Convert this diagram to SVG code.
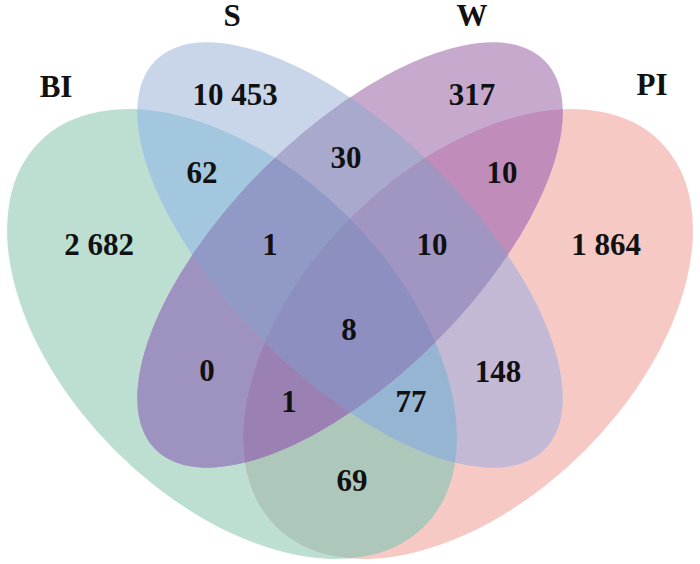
<svg xmlns="http://www.w3.org/2000/svg" width="700" height="564" viewBox="0 0 700 564">
<style>
text{font-family:"Liberation Serif","Times New Roman",serif;font-weight:bold;font-size:31px;fill:#111;text-anchor:middle}
</style>
<defs>
<ellipse id="eBI" cx="232" cy="334" rx="272" ry="165" transform="rotate(45 232 334)"/>
<ellipse id="eS" cx="350" cy="255" rx="275" ry="122" transform="rotate(45 350 255)"/>
<ellipse id="eW" cx="350" cy="255" rx="275" ry="122" transform="rotate(-45 350 255)"/>
<ellipse id="ePI" cx="468" cy="334" rx="272" ry="165" transform="rotate(-45 468 334)"/>
<clipPath id="cBI"><use href="#eBI"/></clipPath>
<clipPath id="cS"><use href="#eS"/></clipPath>
<clipPath id="cW"><use href="#eW"/></clipPath>
<clipPath id="cPI"><use href="#ePI"/></clipPath>
</defs>
<rect width="700" height="564" fill="#fff"/>
<g id="BI">
<use href="#eBI" fill="#BDDFD2"/>
<text x="56" y="97">BI</text>
</g>
<g id="PI">
<use href="#ePI" fill="#F7C9C4"/>
<text x="652" y="95">PI</text>
</g>
<g id="S">
<use href="#eS" fill="#C9D5E8"/>
<text x="232" y="26">S</text>
</g>
<g id="W">
<use href="#eW" fill="#C6A9CD"/>
<text x="472" y="26">W</text>
</g>
<g id="overlaps">
<g clip-path="url(#cS)"><use href="#eBI" fill="#A2C7DE"/></g>
<g clip-path="url(#cW)"><use href="#eBI" fill="#9E92C0"/></g>
<g clip-path="url(#cPI)"><use href="#eBI" fill="#ADC7BA"/></g>
<g clip-path="url(#cW)"><use href="#eS" fill="#A9A8CD"/></g>
<g clip-path="url(#cPI)"><use href="#eS" fill="#C3B9D5"/></g>
<g clip-path="url(#cPI)"><use href="#eW" fill="#C08CB9"/></g>
<g clip-path="url(#cS)"><g clip-path="url(#cW)"><use href="#eBI" fill="#9199C6"/></g></g>
<g clip-path="url(#cS)"><g clip-path="url(#cPI)"><use href="#eBI" fill="#96B5D3"/></g></g>
<g clip-path="url(#cW)"><g clip-path="url(#cPI)"><use href="#eBI" fill="#9A80B3"/></g></g>
<g clip-path="url(#cS)"><g clip-path="url(#cW)"><use href="#ePI" fill="#A196C2"/></g></g>
<g clip-path="url(#cS)"><g clip-path="url(#cW)"><g clip-path="url(#cPI)"><use href="#eBI" fill="#8C8FBF"/></g></g></g>
</g>
<g id="counts">
<text x="235" y="105">10 453</text>
<text x="472" y="105">317</text>
<text x="202" y="183">62</text>
<text x="346" y="168">30</text>
<text x="502" y="183">10</text>
<text x="99" y="255">2 682</text>
<text x="270" y="255">1</text>
<text x="432" y="255">10</text>
<text x="606" y="255">1 864</text>
<text x="349" y="340">8</text>
<text x="207" y="381">0</text>
<text x="289" y="412">1</text>
<text x="411" y="412">77</text>
<text x="498" y="382">148</text>
<text x="352" y="491">69</text>
</g>
</svg>
